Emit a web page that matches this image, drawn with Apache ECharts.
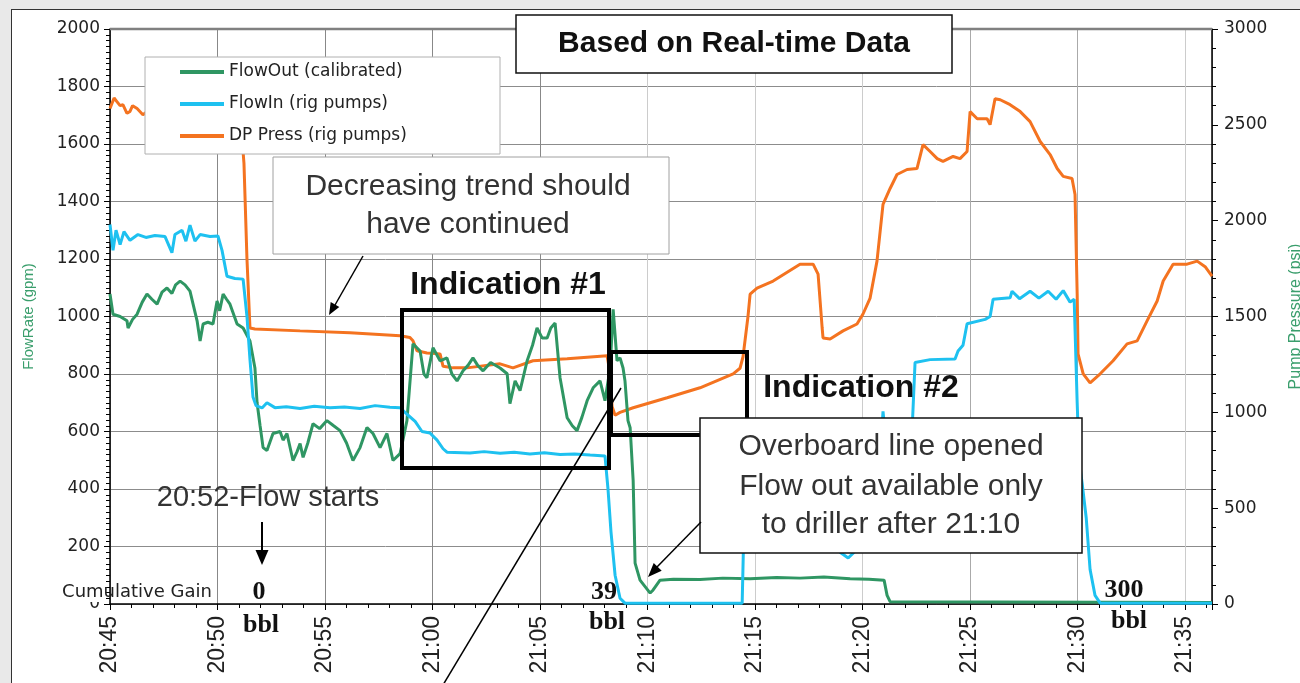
<!DOCTYPE html>
<html lang="en">

<head>
    <meta charset="UTF-8">
    <title>Based on Real-time Data</title>
    <script src="https://cdn.jsdelivr.net/npm/echarts@6/dist/echarts.min.js"></script>
    <style>
        body { margin: 0; background: #e9e9e9; }
        #frame { position: absolute; left: 11px; top: 9px; width: 1300px; height: 700px; background: #fff; border-left: 1.5px solid #333; border-top: 1.5px solid #333; }
        #main { position: absolute; left: 0; top: 0; width: 1300px; height: 683px; }
    </style>
</head>

<body>
    <div id="frame"></div>
    <div id="main"></div>
    <script>
    // x values are minutes after 20:00 (45 = 20:45)
    const flowOutData = [
        [45.0, 1078], [45.14, 1008], [45.47, 1000], [45.79, 985], [45.84, 960], [46.05, 990], [46.26, 1008],
        [46.5, 1050], [46.72, 1078], [46.95, 1060], [47.19, 1043], [47.42, 1085], [47.65, 1099], [47.88, 1080],
        [48.05, 1110], [48.26, 1123], [48.49, 1110], [48.72, 1088], [49.05, 985], [49.19, 915], [49.33, 974],
        [49.55, 980], [49.79, 974], [49.98, 1054], [50.1, 1020], [50.26, 1078], [50.42, 1060], [50.58, 1043],
        [50.91, 974], [51.19, 960], [51.51, 915], [51.74, 821], [51.84, 700], [51.98, 620], [52.12, 544],
        [52.3, 534], [52.58, 593], [52.91, 600], [53.05, 570], [53.23, 593], [53.51, 499], [53.7, 530],
        [53.84, 558], [53.98, 510], [54.2, 560], [54.44, 627], [54.75, 610], [55.09, 638], [55.4, 620],
        [55.7, 603], [56.0, 560], [56.3, 499], [56.63, 544], [56.95, 614], [57.23, 593], [57.56, 544],
        [57.88, 593], [58.16, 499], [58.49, 523], [58.81, 638], [59.09, 905], [59.42, 880], [59.6, 800],
        [59.74, 787], [60.02, 891], [60.35, 846], [60.67, 856], [60.9, 800], [61.14, 776], [61.42, 811],
        [61.65, 830], [61.88, 856], [62.1, 830], [62.35, 811], [62.7, 840], [63.14, 821], [63.47, 801],
        [63.6, 697], [63.84, 776], [64.07, 742], [64.4, 846], [64.65, 900], [64.86, 960], [65.1, 925],
        [65.33, 925], [65.5, 960], [65.7, 977], [65.93, 787], [66.26, 648], [66.5, 620], [66.72, 603],
        [66.95, 650], [67.19, 707], [67.47, 752], [67.79, 776], [68.02, 707], [68.26, 821], [68.4, 1025],
        [68.58, 846], [68.72, 856], [68.86, 821], [68.95, 776], [69.09, 638], [69.19, 613], [69.33, 430],
        [69.42, 142], [69.65, 83], [70.12, 38], [70.26, 49], [70.58, 83], [71.2, 86], [72.44, 85],
        [73.5, 90], [74.77, 88], [76.0, 92], [77.09, 90], [78.2, 94], [79.42, 88], [80.3, 86], [81.0, 83],
        [81.14, 30], [81.28, 8], [96.25, 5]
    ]

    const flowInData = [
        [45.0, 1320], [45.14, 1230], [45.28, 1300], [45.47, 1250], [45.65, 1295], [45.93, 1265], [46.3, 1285],
        [46.67, 1275], [47.09, 1282], [47.56, 1278], [47.88, 1222], [48.02, 1285], [48.35, 1300], [48.53, 1262],
        [48.72, 1318], [48.95, 1262], [49.19, 1285], [49.65, 1278], [50.02, 1280], [50.21, 1230], [50.44, 1140],
        [50.81, 1132], [51.19, 1130], [51.37, 1000], [51.51, 850], [51.65, 720], [51.79, 690], [52.07, 682],
        [52.3, 700], [52.67, 683], [53.2, 686], [53.84, 680], [54.5, 688], [55.23, 683], [55.9, 685],
        [56.63, 680], [57.33, 690], [58.02, 684], [58.49, 683], [58.81, 660], [59.19, 635], [59.51, 600],
        [59.88, 595], [60.21, 570], [60.49, 540], [60.67, 528], [61.74, 525], [62.4, 530], [63.14, 524],
        [63.8, 528], [64.53, 522], [65.2, 526], [65.93, 520], [66.6, 522], [67.33, 518], [68.02, 515],
        [68.16, 400], [68.3, 250], [68.49, 100], [68.72, 20], [68.95, 3], [72.44, 3], [74.4, 3],
        [74.49, 300], [74.67, 380], [75.7, 400], [77.09, 420], [78.72, 430], [78.95, 180], [79.33, 160],
        [79.74, 190], [79.98, 430], [80.81, 500], [80.95, 670], [81.09, 560], [82.3, 600], [82.44, 840],
        [83.14, 850], [84.3, 852], [84.44, 880], [84.67, 900], [84.86, 975], [85.7, 990], [85.93, 1000],
        [86.07, 1060], [86.86, 1065], [86.95, 1088], [87.3, 1062], [87.79, 1088], [88.2, 1064], [88.63, 1088],
        [89.0, 1060], [89.33, 1090], [89.65, 1050], [89.84, 1060], [89.98, 700], [90.07, 500], [90.21, 420],
        [90.4, 300], [90.58, 120], [90.81, 30], [91.05, 3], [96.25, 3]
    ]

    const dpPressData = [
        [45.0, 2585], [45.19, 2640], [45.33, 2620], [45.47, 2600], [45.6, 2605], [45.79, 2560], [45.93, 2570],
        [46.05, 2600], [46.26, 2585], [46.53, 2553], [46.86, 2580], [49.19, 2570], [51.05, 2560], [51.23, 2300],
        [51.37, 1800], [51.51, 1440], [51.74, 1435], [53.84, 1425], [56.16, 1415], [58.49, 1400], [58.95, 1390],
        [59.09, 1373], [59.28, 1321], [59.74, 1310], [60.35, 1305], [60.49, 1240], [60.95, 1232], [61.6, 1232],
        [63.14, 1253], [63.74, 1232], [64.67, 1269], [66.26, 1279], [68.12, 1295], [68.26, 1200], [68.35, 1030],
        [68.49, 985], [68.72, 1000], [69.33, 1024], [70.91, 1076], [72.44, 1128], [73.98, 1201], [74.3, 1230],
        [74.44, 1290], [74.67, 1500], [74.77, 1617], [75.09, 1648], [75.84, 1685], [77.09, 1773], [77.7, 1773],
        [77.93, 1721], [78.12, 1440], [78.16, 1388], [78.49, 1383], [79.09, 1425], [79.74, 1461], [80.02, 1513],
        [80.35, 1596], [80.67, 1789], [80.95, 2085], [81.28, 2168], [81.6, 2241], [82.07, 2267], [82.53, 2272],
        [82.81, 2397], [83.14, 2361], [83.47, 2324], [83.74, 2309], [84.21, 2335], [84.53, 2324], [84.86, 2361],
        [85.0, 2569], [85.33, 2532], [85.79, 2532], [85.93, 2501], [86.16, 2636], [86.4, 2631], [86.86, 2605],
        [87.33, 2569], [87.79, 2517], [88.26, 2413], [88.72, 2345], [89.05, 2272], [89.33, 2231], [89.74, 2220],
        [89.88, 2137], [89.98, 1617], [90.02, 1305], [90.26, 1201], [90.58, 1154], [91.05, 1201], [91.65, 1269],
        [92.3, 1357], [92.77, 1373], [93.23, 1477], [93.7, 1581], [93.98, 1685], [94.44, 1773], [95.09, 1773],
        [95.56, 1789], [95.93, 1760], [96.25, 1711]
    ]

    const seriesNames = ['FlowOut (calibrated)', 'FlowIn (rig pumps)', 'DP Press (rig pumps)']

    function timeLabel(v) {
        const h = 20 + Math.floor(v / 60)
        const m = Math.round(v % 60)
        return h + ':' + (m < 10 ? '0' + m : m)
    }

    const sans = '"Liberation Sans", Arial, sans-serif'
    const serif = '"Liberation Serif", "Times New Roman", serif'
    const dejavu = '"DejaVu Sans", sans-serif'

    function text(str, x, y, font, color, z) {
        return {
            type: 'text', z: z || 60,
            style: { text: str, x: x, y: y, font: font, fill: color || '#222', textAlign: 'center', textVerticalAlign: 'middle' }
        }
    }
    function box(x, y, w, h, stroke, lw, z) {
        return {
            type: 'rect', z: z || 50,
            shape: { x: x, y: y, width: w, height: h },
            style: { fill: '#fff', stroke: stroke, lineWidth: lw }
        }
    }
    function frame(x, y, w, h) {
        return {
            type: 'rect', z: 40,
            shape: { x: x, y: y, width: w, height: h },
            style: { fill: null, stroke: '#000', lineWidth: 4 }
        }
    }
    function line(x1, y1, x2, y2, lw, color, z) {
        return {
            type: 'line', z: z || 55,
            shape: { x1: x1, y1: y1, x2: x2, y2: y2 },
            style: { stroke: color || '#000', lineWidth: lw || 1.5 }
        }
    }
    function head(points) {
        return { type: 'polygon', z: 55, shape: { points: points }, style: { fill: '#000' } }
    }

    const myChart = echarts.init(document.getElementById('main'))
    const option = {
        animation: false,
        backgroundColor: 'transparent',
        grid: { left: 110, right: 88, top: 29, bottom: 79, outerBoundsMode: 'none', containLabel: false },
        legend: {
            orient: 'vertical',
            left: 180, top: 62,
            padding: 0,
            itemWidth: 44, itemHeight: 4, itemGap: 12,
            icon: 'rect',
            z: 60,
            data: seriesNames,
            textStyle: { fontFamily: dejavu, fontSize: 17, color: '#222', lineHeight: 20 }
        },
        xAxis: {
            type: 'value',
            min: 45, max: 96.25, interval: 5,
            axisLine: { lineStyle: { color: '#000', width: 1.5 } },
            axisTick: { length: 6, lineStyle: { color: '#000' } },
            minorTick: { show: true, splitNumber: 5, length: 4, lineStyle: { color: '#000' } },
            axisLabel: {
                rotate: 90, margin: 12, fontSize: 23, fontFamily: sans, color: '#222',
                formatter: timeLabel,
                showMaxLabel: false
            },
            splitLine: { show: true, lineStyle: { color: ['#888', '#888', '#888', '#888', '#888', '#ccc', '#ccc', '#ccc', '#aaa', '#aaa', '#ccc'] } }
        },
        yAxis: [{
            type: 'value',
            min: 0, max: 2000, interval: 200,
            name: 'FlowRate (gpm)',
            nameLocation: 'middle', nameGap: 74, nameRotate: 90,
            nameTextStyle: { color: '#3a9e6c', fontSize: 15, fontFamily: sans },
            axisLine: { show: true, lineStyle: { color: '#000', width: 1.5 } },
            axisTick: { show: true, length: 6, lineStyle: { color: '#000' } },
            minorTick: { show: true, splitNumber: 10, length: 4, lineStyle: { color: '#000' } },
            axisLabel: { fontSize: 17, fontFamily: dejavu, color: '#222', margin: 10, formatter: v => String(v) },
            splitLine: { show: true, lineStyle: { color: '#8c8c8c' } }
        }, {
            type: 'value',
            min: 0, max: 3000, interval: 500,
            name: 'Pump Pressure (psi)',
            nameLocation: 'middle', nameGap: 76, nameRotate: 90,
            nameTextStyle: { color: '#3a9e6c', fontSize: 16, fontFamily: sans },
            axisLine: { show: true, lineStyle: { color: '#000', width: 1.5 } },
            axisTick: { show: true, length: 6, lineStyle: { color: '#000' } },
            minorTick: { show: true, splitNumber: 5, length: 4, lineStyle: { color: '#000' } },
            axisLabel: { fontSize: 17, fontFamily: dejavu, color: '#222', margin: 12, formatter: v => String(v) },
            splitLine: { show: false }
        }],
        series: [{
            name: seriesNames[2],
            type: 'line',
            yAxisIndex: 1,
            data: dpPressData,
            showSymbol: false,
            color: '#f47320',
            lineStyle: { width: 3 },
            z: 2
        }, {
            name: seriesNames[0],
            type: 'line',
            yAxisIndex: 0,
            data: flowOutData,
            showSymbol: false,
            color: '#2f9663',
            lineStyle: { width: 3 },
            z: 3
        }, {
            name: seriesNames[1],
            type: 'line',
            yAxisIndex: 0,
            data: flowInData,
            showSymbol: false,
            color: '#1ec1f0',
            lineStyle: { width: 3 },
            z: 4
        }],
        graphic: {
            elements: [
                // top edge of the plot
                line(110, 29, 1212, 29, 2.5, '#808080', 30),
                // legend box
                box(145, 57, 355, 97, '#b0b0b0', 1, 50),
                // title
                box(516, 15, 436, 58, '#111', 1.5),
                text('Based on Real-time Data', 734, 44, 'bold 30px ' + sans, '#111'),
                // trend note
                box(273, 157, 396, 97, '#a0a0a0', 1),
                text('Decreasing trend should', 468, 187, '30px ' + sans, '#333'),
                text('have continued', 468, 225, '30px ' + sans, '#333'),
                line(363, 256, 335, 305),
                head([[329, 315], [339.3, 307.1], [330.7, 302.1]]),
                // indication 1
                text('Indication #1', 508, 285, 'bold 32px ' + sans, '#111'),
                frame(402, 310, 207, 158),
                // indication 2
                text('Indication #2', 861, 388, 'bold 32px ' + sans, '#111'),
                frame(611, 352, 136, 83),
                // overboard note
                box(700, 418, 382, 135, '#111', 1.5),
                text('Overboard line opened', 891, 447, '30px ' + sans, '#333'),
                text('Flow out available only', 891, 487, '30px ' + sans, '#333'),
                text('to driller after 21:10', 891, 525, '30px ' + sans, '#333'),
                line(701, 522, 657, 567),
                head([[648, 577], [661.7, 570.7], [653.7, 563.1]]),
                // long pointer
                line(440, 690, 621, 388, 1.5),
                // flow starts
                text('20:52-Flow starts', 268, 498, '29px ' + sans, '#333'),
                line(262, 522, 262, 552, 2),
                head([[262, 565], [255.5, 550], [268.5, 550]]),
                // cumulative gain
                { type: 'rect', z: 45, shape: { x: 45, y: 579, width: 60, height: 23 }, style: { fill: '#fff' } },
                text('Cumulative Gain', 137, 592, '18px ' + dejavu, '#222'),
                text('0', 259, 592, 'bold 26px ' + serif, '#111'),
                text('bbl', 261, 625, 'bold 26px ' + serif, '#111'),
                text('39', 604, 592, 'bold 26px ' + serif, '#111'),
                text('bbl', 607, 622, 'bold 26px ' + serif, '#111'),
                text('300', 1124, 590, 'bold 26px ' + serif, '#111'),
                text('bbl', 1129, 621, 'bold 26px ' + serif, '#111')
            ]
        }
    }
    myChart.setOption(option)
    </script>
</body>

</html>
